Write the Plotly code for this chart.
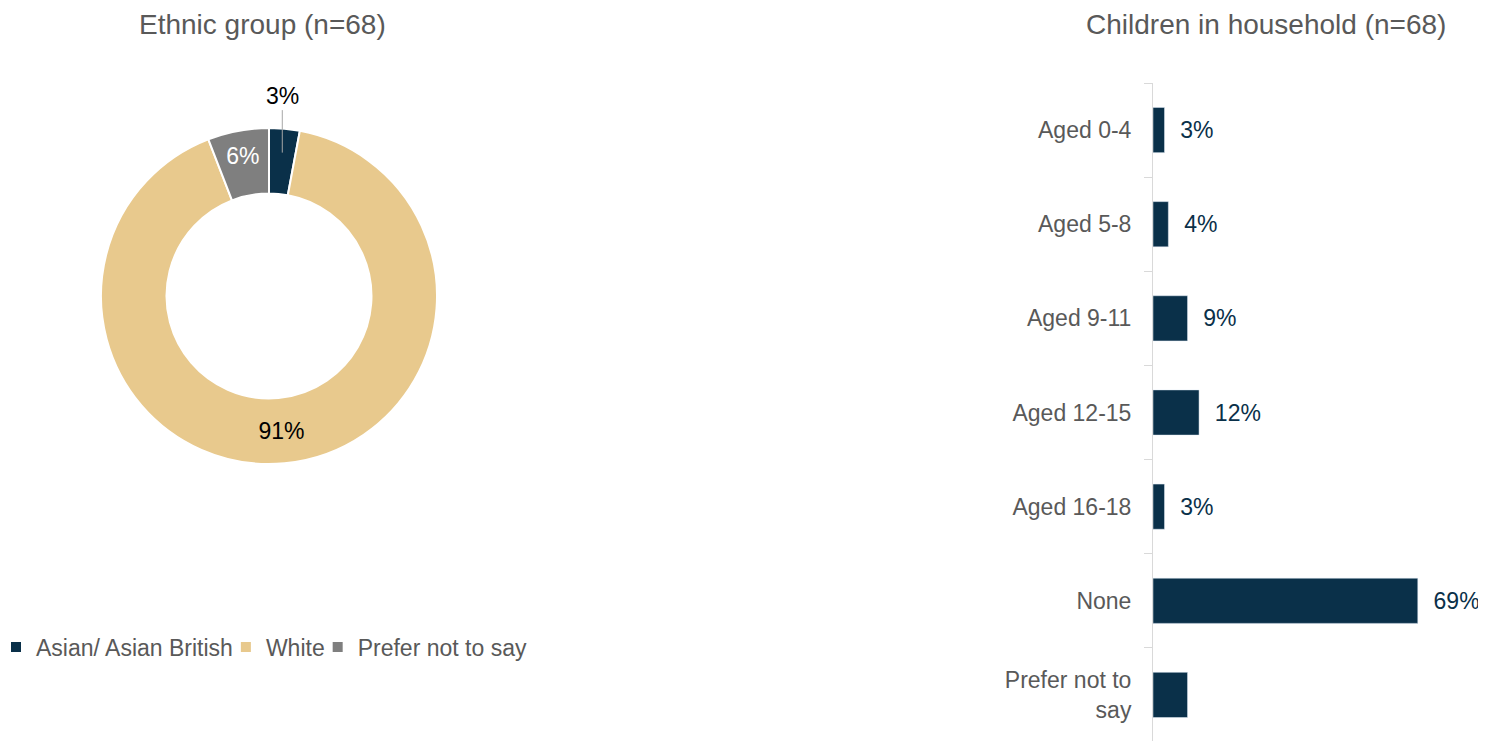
import math
import plotly.graph_objects as go

# Donut data
eth_labels = ["Asian/ Asian British", "White", "Prefer not to say"]
eth_values = [2.94, 91.18, 5.88]
eth_colors = ["#0a3049", "#e8c98d", "#7f7f7f"]

# Bar data
kid_cats = ["Aged 0-4", "Aged 5-8", "Aged 9-11", "Aged 12-15", "Aged 16-18", "None", "Prefer not to<br>say"]
kid_values = [3, 4, 9, 12, 3, 69, 9]
kid_text = ["3%", "4%", "9%", "12%", "3%", "69%", ""]

FONT = "Liberation Sans, Arial, sans-serif"
NAVY = "#0a3049"
GREY = "#595959"
W, H = 1486, 741

# donut geometry (pixels, figure coords from top-left)
CX, CY, R = 261, 288, 168
dom_x = [(CX - R) / W, (CX + R) / W]
dom_y = [(H - CY - R) / H, (H - CY + R) / H]

fig = go.Figure()

fig.add_trace(go.Pie(
    labels=eth_labels,
    values=eth_values,
    marker=dict(colors=eth_colors, line=dict(color="white", width=2)),
    hole=0.61,
    sort=False,
    direction="clockwise",
    rotation=0,
    texttemplate="%{percent:.0%}",
    textposition=["none", "inside", "inside"],
    insidetextorientation="horizontal",
    textfont=dict(family=FONT, size=23, color=["black", "black", "white"]),
    insidetextfont=dict(family=FONT, size=23, color=["black", "black", "white"]),
    domain=dict(x=dom_x, y=dom_y),
    showlegend=True,
    hoverinfo="label+percent",
))

fig.add_trace(go.Bar(
    x=kid_values,
    y=kid_cats,
    orientation="h",
    marker=dict(color=NAVY),
    width=0.48,
    text=["  " + t if t else "" for t in kid_text],
    textposition="outside",
    textfont=dict(family=FONT, size=23, color=NAVY),
    cliponaxis=False,
    showlegend=False,
))

# leader-line label for the small first slice, placed from the data angle
total = sum(eth_values)
ang = math.radians(360 * eth_values[0] / total / 2)
r_pt = 144
px = CX + r_pt * math.sin(ang)
py = CY - r_pt * math.cos(ang)
first_label = f"{round(100 * eth_values[0] / total)}%"

fig.update_layout(
    width=W, height=H,
    margin=dict(l=0, r=0, t=0, b=0, autoexpand=False),
    paper_bgcolor="white",
    plot_bgcolor="white",
    font=dict(family=FONT, color=GREY, size=23),
    xaxis=dict(domain=[1145 / W, 1452 / W], range=[0, 80], visible=False, showgrid=False, zeroline=False),
    yaxis=dict(domain=[(H - 734) / H, (H - 75) / H], autorange="reversed", showline=True, linecolor="#d9d9d9",
               linewidth=1, ticks="outside", tickson="boundaries", ticklen=8, tickcolor="#d9d9d9",
               ticklabelstandoff=16, showgrid=False,
               tickfont=dict(family=FONT, size=23, color=GREY)),
    legend=dict(orientation="h", x=0, y=(H - 639) / H, xanchor="left", yanchor="middle",
                font=dict(family=FONT, size=23, color=GREY), itemwidth=30, traceorder="normal",
                indentation=-12),
    annotations=[
        dict(text="Ethnic group (n=68)", x=254 / W, y=1 - 17 / H, xref="paper", yref="paper",
             showarrow=False, xanchor="center", yanchor="middle",
             font=dict(family=FONT, size=28, color=GREY)),
        dict(text="Children in household (n=68)", x=1258 / W, y=1 - 17 / H, xref="paper", yref="paper",
             showarrow=False, xanchor="center", yanchor="middle",
             font=dict(family=FONT, size=28, color=GREY)),
        dict(text=first_label, x=px / W, y=1 - py / H, xref="paper", yref="paper",
             showarrow=True, arrowhead=0, arrowwidth=1, arrowcolor="#a6a6a6", ax=0, ay=-57,
             font=dict(family=FONT, size=23, color="black")),
    ],
)

fig.write_html("out.html")
